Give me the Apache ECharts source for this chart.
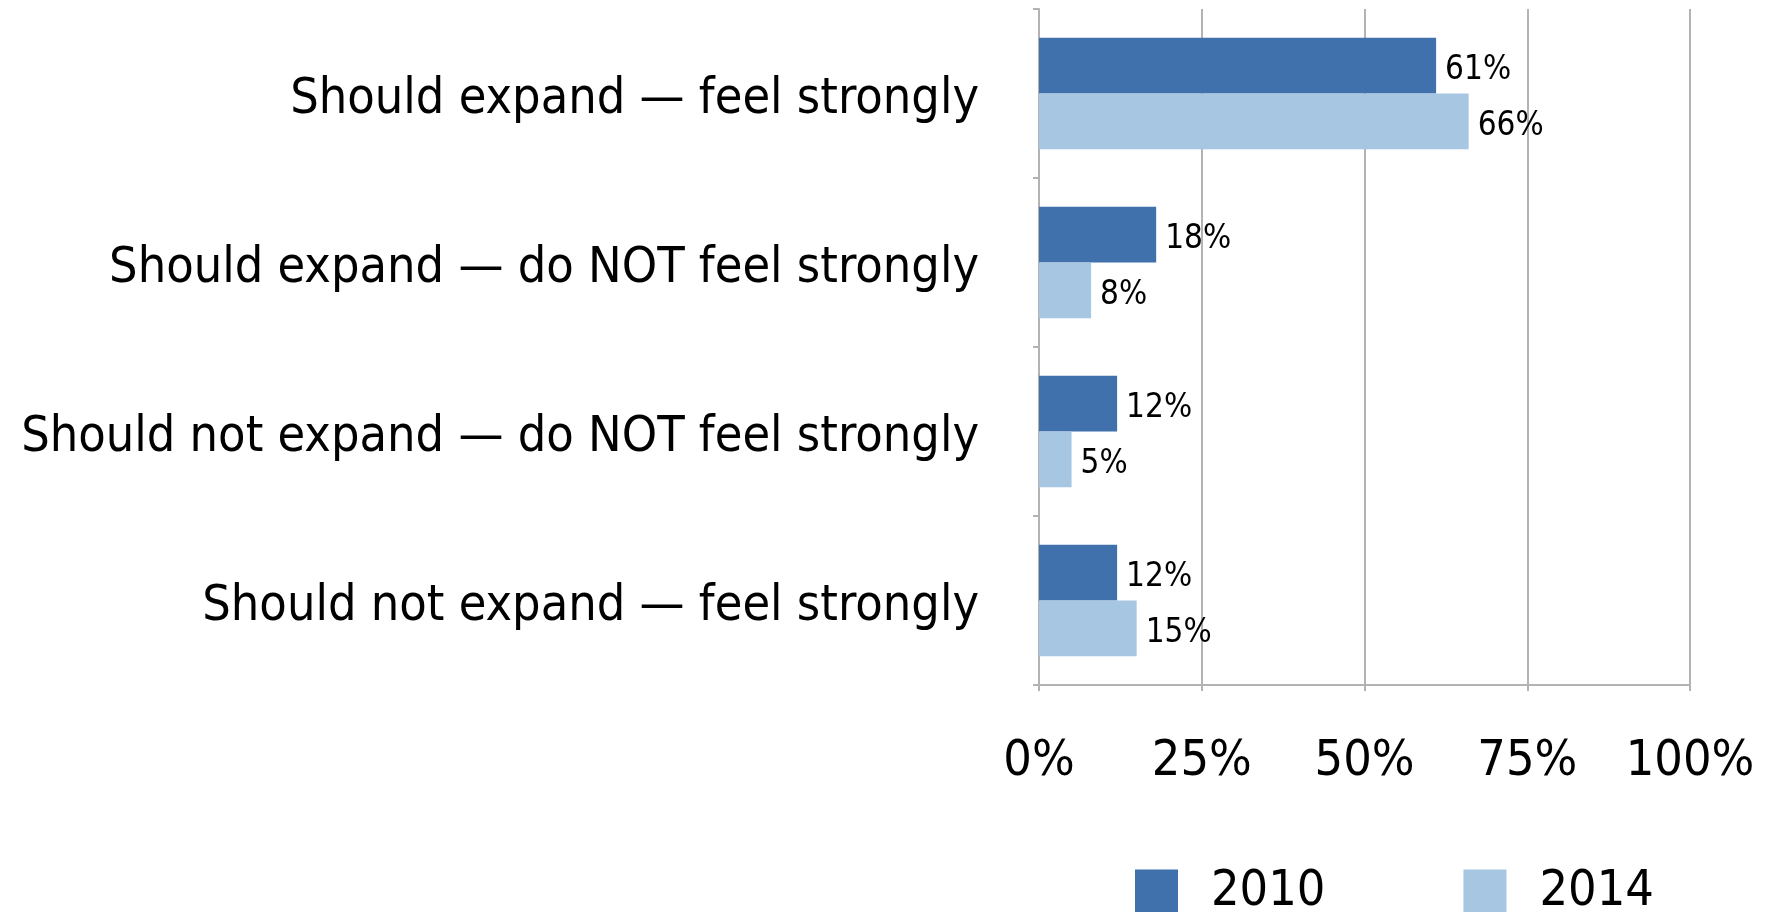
<!DOCTYPE html>
<html>
<head>
<meta charset="utf-8">
<script src="https://cdn.jsdelivr.net/npm/echarts@6/dist/echarts.min.js"></script>
<style>
  html, body { margin: 0; padding: 0; background: #fff; }
  #chart { width: 1772px; height: 912px; }
</style>
</head>
<body>
<div id="chart"></div>
<script>
  // categories, top to bottom
  var categories = [
    'Should expand — feel strongly',
    'Should expand — do NOT feel strongly',
    'Should not expand — do NOT feel strongly',
    'Should not expand — feel strongly'
  ]
  var values2010 = [61, 18, 12, 12]
  var values2014 = [66, 8, 5, 15]
  var seriesNames = ['2010', '2014']
  var xTicks = [0, 25, 50, 75, 100]

  var font = '"Liberation Sans Narrow", "DejaVu Sans Condensed", sans-serif'
  var gray = '#b3b3b3'

  var chart = echarts.init(document.getElementById('chart'))

  var labelStyle = {
    show: true,
    position: 'right',
    distance: 9,
    offset: [0, 5],
    color: '#000',
    fontFamily: font,
    fontSize: 33,
    formatter: '{c}%'
  }

  var option = {
    animation: false,
    backgroundColor: '#fff',
    grid: {
      left: 1039,
      top: 9,
      right: 82,
      bottom: 227,
      containLabel: false
    },
    legend: {
      data: seriesNames,
      left: 1130,
      top: 862,
      itemWidth: 43,
      itemHeight: 45,
      itemGap: 138,
      icon: 'rect',
      textStyle: {
        color: '#000',
        fontFamily: font,
        fontSize: 50,
        padding: [0, 0, 0, 28]
      }
    },
    xAxis: {
      type: 'value',
      min: xTicks[0],
      max: xTicks[xTicks.length - 1],
      interval: 25,
      axisLine: { show: true, lineStyle: { color: gray, width: 2 } },
      axisTick: { show: true, length: 6, lineStyle: { color: gray, width: 2 } },
      splitLine: { show: true, lineStyle: { color: gray, width: 2 } },
      axisLabel: {
        margin: 52,
        color: '#000',
        fontFamily: font,
        fontSize: 50,
        formatter: '{value}%'
      }
    },
    yAxis: {
      type: 'category',
      data: categories,
      inverse: true,
      axisLine: { show: true, lineStyle: { color: gray, width: 2 } },
      axisTick: { show: true, length: 6, lineStyle: { color: gray, width: 2 } },
      splitLine: { show: false },
      axisLabel: {
        margin: 60,
        color: '#000',
        fontFamily: font,
        fontSize: 50,
        formatter: function (v) { return '{c|' + v + '}' },
        rich: {
          c: { fontFamily: font, fontSize: 50, color: '#000', padding: [14, 0, 0, 0] }
        }
      }
    },
    series: [
      {
        name: seriesNames[0],
        type: 'bar',
        data: values2010,
        barGap: '0%',
        barCategoryGap: '34%',
        itemStyle: { color: '#4071ad' },
        label: labelStyle
      },
      {
        name: seriesNames[1],
        type: 'bar',
        data: values2014,
        itemStyle: { color: '#a6c6e1' },
        label: labelStyle
      }
    ]
  }

  chart.setOption(option)
</script>
</body>
</html>
